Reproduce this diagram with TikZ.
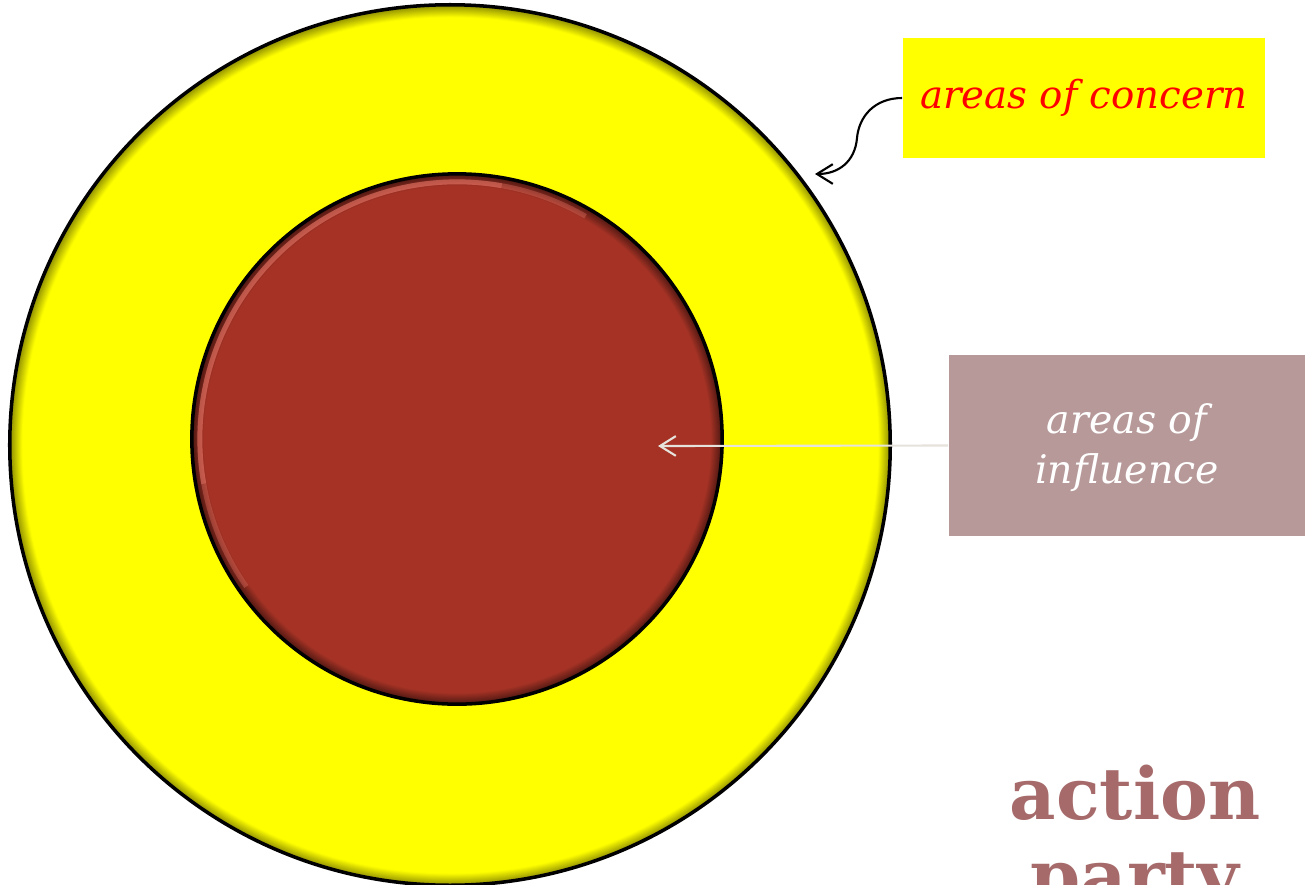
\documentclass[tikz,border=0pt]{standalone}
\usepackage{fontspec}
\setmainfont{DejaVu Serif}
\usepackage{tikz}
\usetikzlibrary{arrows.meta,positioning,calc}
\usepackage{xcolor}
\definecolor{RingYellow}{RGB}{255,255,0}
\definecolor{CoreBrick}{RGB}{165,50,37}
\definecolor{CoreGlow}{RGB}{232,120,105}
\definecolor{TagRose}{RGB}{183,153,153}
\definecolor{TagRed}{RGB}{255,0,0}
\definecolor{PointerGrey}{RGB}{230,226,220}
\definecolor{PartyRose}{RGB}{166,106,106}
\pgfdeclareradialshading{ringbevel}{\pgfpoint{0bp}{0bp}}{%
  color(0bp)=(RingYellow); color(24.3bp)=(RingYellow);
  color(25bp)=(RingYellow!55!black); color(50bp)=(RingYellow!55!black)}
\pgfdeclareradialshading{corebevel}{\pgfpoint{0bp}{0bp}}{%
  color(0bp)=(CoreBrick); color(23.9bp)=(CoreBrick);
  color(25bp)=(CoreBrick!45!black); color(50bp)=(CoreBrick!45!black)}

\begin{document}
\begin{tikzpicture}[x=0.01cm,y=-0.01cm,
  ringblk/.style={circle,draw=black,line width=1pt,shade,shading=ringbevel,
                  minimum size=8.8cm,inner sep=0pt},
  coreblk/.style={circle,draw=black,line width=1pt,shade,shading=corebevel,
                  minimum size=5.3cm,inner sep=0pt},
  tagblk/.style={rectangle,inner sep=0pt,align=center},
  pointer/.style={-{Straight Barb[length=4.5pt,width=5.6pt]},line width=0.6pt},
]
\clip (0,0) rectangle (1305,884);
\useasboundingbox (0,0) rectangle (1305,884);

\node[ringblk] (concern) at (450,445) {};
\node[coreblk] (infl) at (457,439) {};
% soft highlight along the top rim of the core
\draw[CoreGlow,line width=1.4pt,opacity=.35]
  ($(infl.center)+(60:2.57cm)$) arc[start angle=60,end angle=215,radius=2.57cm];
\draw[CoreGlow,line width=1.4pt,opacity=.4]
  ($(infl.center)+(80:2.57cm)$) arc[start angle=80,end angle=190,radius=2.57cm];

\node[tagblk,fill=RingYellow,minimum width=3.62cm,minimum height=1.2cm,
      text=TagRed,font=\itshape\fontsize{11}{13}\selectfont]
  (lblconcern) at (1084,98) {areas of concern};
\node[tagblk,fill=TagRose,minimum width=3.56cm,minimum height=1.81cm,
      text=white,font=\itshape\fontsize{11.2}{14.2}\selectfont]
  (lblinfl) at (1127,445.5) {\strut areas of\\influence};

\coordinate (concerntip) at (815,174);
\coordinate (infltip) at (658,446);
\draw[pointer] (lblconcern.west) .. controls (875,98) and (859,116) .. (857,138)
  .. controls (855,162) and (838,174) .. (concerntip);
\draw[pointer,PointerGrey] (lblinfl.west) -- (infltip);

\node[font=\bfseries\fontsize{20.4}{23.5}\selectfont,text=PartyRose,align=center,
      inner sep=0pt,anchor=north] (party) at (1135,764) {action\\party};
\end{tikzpicture}
\end{document}
